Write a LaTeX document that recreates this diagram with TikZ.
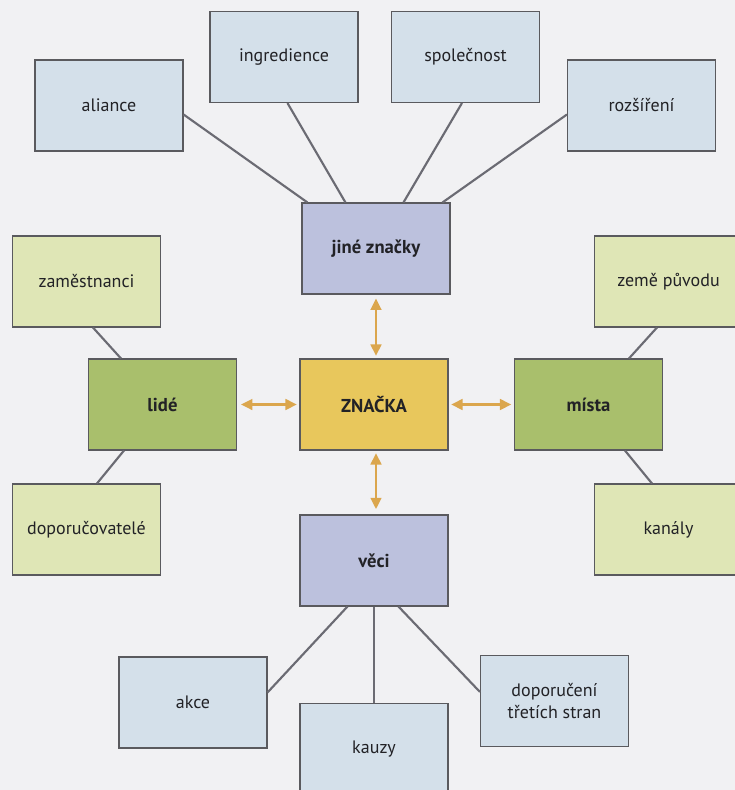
\documentclass[tikz,border=0pt]{standalone}
\usepackage{fontspec}
\setmainfont{PT Sans}
\usetikzlibrary{arrows.meta,calc}
\definecolor{bg}{HTML}{F1F1F3}
\definecolor{lblue}{HTML}{D4E0EA}
\definecolor{lav}{HTML}{BCC1DD}
\definecolor{gold}{HTML}{E8C75C}
\definecolor{grn}{HTML}{A9BF6C}
\definecolor{lgrn}{HTML}{DFE6B6}
\definecolor{arr}{HTML}{DBA64D}
\definecolor{conn}{HTML}{6B6B73}
\definecolor{bord}{HTML}{5A5A5E}
\definecolor{txt}{HTML}{222226}
\tikzset{
  box/.style={draw=bord, line width=0.8pt, minimum width=111pt, minimum height=68.25pt,
    inner sep=0pt, align=center, text=txt, font=\fontsize{13.5}{16}\selectfont},
  outer/.style={box, fill=lblue},
  mid/.style={box, fill=lav, font=\fontsize{14}{16}\selectfont\bfseries},
  core/.style={box, fill=gold, font=\fontsize{14}{16}\selectfont\bfseries},
  side/.style={box, fill=grn, font=\fontsize{14}{16}\selectfont\bfseries},
  sideout/.style={box, fill=lgrn},
  link/.style={draw=conn, line width=1.6pt},
  twoway/.style={draw=arr, line width=1.8pt, {Triangle[width=8pt,length=8.5pt]}-{Triangle[width=8pt,length=8.5pt]}}
}
\begin{document}
\begin{tikzpicture}[x=0.75pt,y=-0.75pt]
\fill[bg] (0,0) rectangle (735,790);
\useasboundingbox (0,0) rectangle (735,790);
\clip (0,0) rectangle (735,790);
% top cluster
\node[outer] (aliance) at (109,105.5) {aliance};
\node[outer] (ingred) at (284,57) {ingredience};
\node[outer] (spol) at (465.5,57) {společnost};
\node[outer] (rozs) at (641.5,105.5) {rozšíření};
\node[mid] (jine) at (376,248.5) {jiné značky};
% middle row
\node[sideout] (zam) at (86.5,281.5) {zaměstnanci};
\node[side] (lide) at (162.5,404.5) {lidé};
\node[core] (znacka) at (374,404.5) {ZNAČKA};
\node[side] (mista) at (588.5,404.5) {místa};
\node[sideout] (zeme) at (668.5,281.5) {země původu};
\node[sideout] (dopor) at (86.5,529.5) {doporučovatelé};
\node[sideout] (kanaly) at (668.5,529.5) {kanály};
% bottom cluster
\node[mid] (veci) at (374,560.5) {věci};
\node[outer] (akce) at (193,702.5) {akce};
\node[outer] (kauzy) at (374,749) {kauzy};
\node[outer] (tretich) at (554.5,701) {doporučení\\třetích stran};
% connectors to jiné značky
\draw[link] ($(aliance.north east)+(0,55)$) -- ($(jine.north west)+(6,0)$);
\draw[link] ($(ingred.south west)+(78,0)$) -- ($(jine.north west)+(44,0)$);
\draw[link] ($(spol.south west)+(71,0)$) -- ($(jine.north west)+(102,0)$);
\draw[link] ($(rozs.north west)+(0,55)$) -- ($(jine.north west)+(141,0)$);
% lidé
\draw[link] ($(zam.south west)+(81,0)$) -- ($(lide.north west)+(33,0)$);
\draw[link] ($(lide.south west)+(36,0)$) -- ($(dopor.north west)+(85,0)$);
% místa
\draw[link] ($(mista.north west)+(115,0)$) -- ($(zeme.south west)+(63,0)$);
\draw[link] ($(mista.south west)+(111,0)$) -- ($(kanaly.north west)+(58,0)$);
% věci
\draw[link] ($(veci.south west)+(48,0)$) -- ($(akce.north east)+(0,36)$);
\draw[link] (veci.south) -- (kauzy.north);
\draw[link] ($(veci.south west)+(99,0)$) -- ($(tretich.north west)+(0,37)$);
% two-way arrows around ZNAČKA
\draw[twoway, shorten <=3pt, shorten >=2pt] (jine.south |- jine.south) -- (jine.south |- znacka.north);
\draw[twoway, shorten <=2pt, shorten >=4pt] (jine.south |- znacka.south) -- (jine.south |- veci.north);
\draw[twoway, shorten <=3pt, shorten >=2pt] (lide.east) -- (znacka.west);
\draw[twoway, shorten <=2pt, shorten >=2pt] (znacka.east) -- (mista.west);
\end{tikzpicture}
\end{document}
